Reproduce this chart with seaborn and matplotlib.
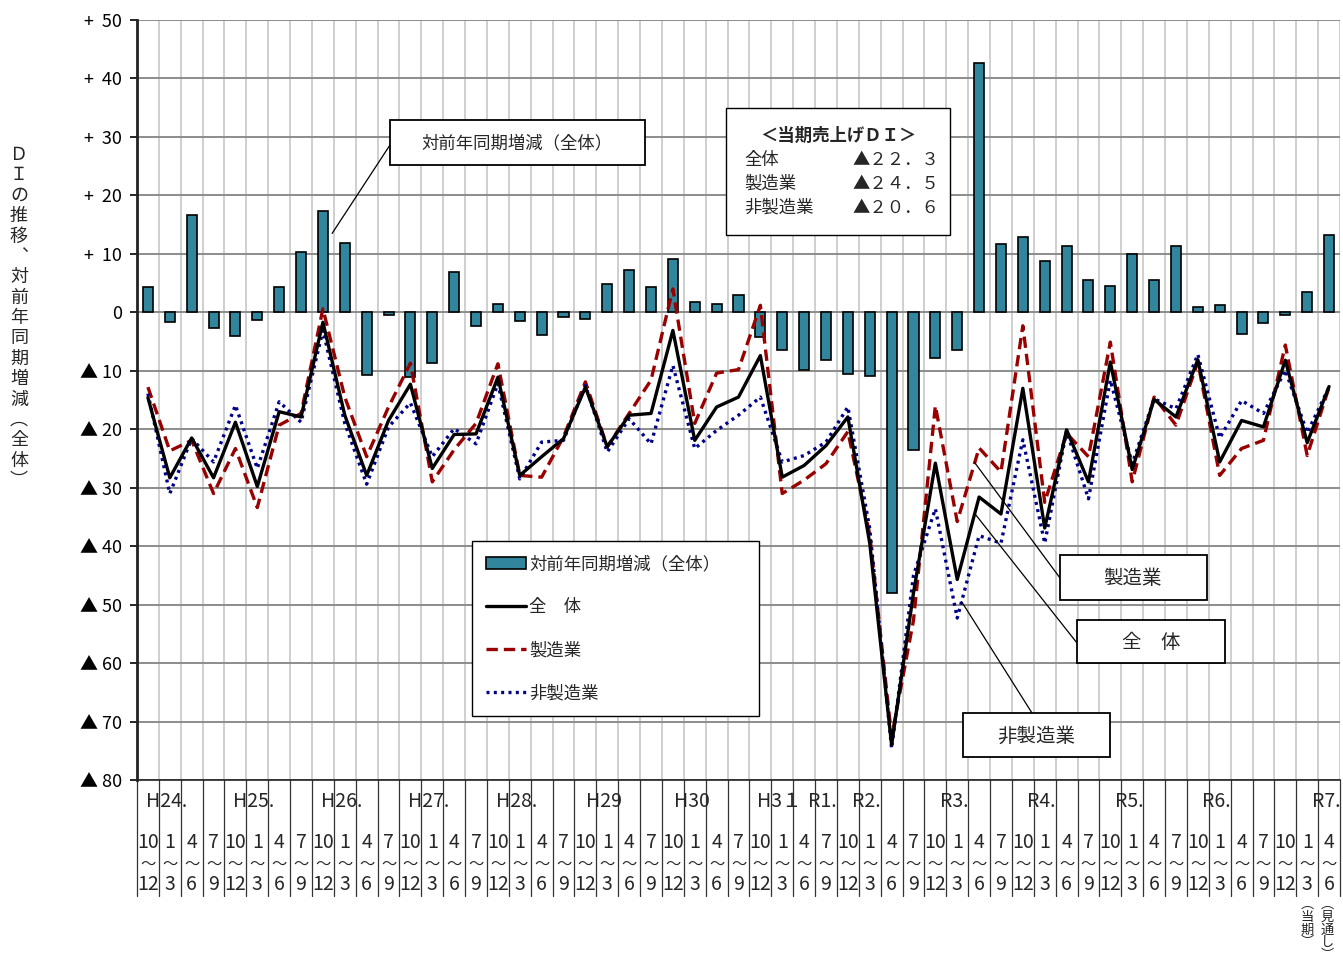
import numpy as np
import pandas as pd
import matplotlib
matplotlib.use("Agg")
import matplotlib.pyplot as plt
import matplotlib.transforms as mtransforms
from matplotlib.patches import Rectangle
import seaborn as sns

# ---------------------------------------------------------------- data
month_from = ["10", "1", "4", "7"]
month_to = ["12", "3", "6", "9"]

year_labels = ["H24.", "H25.", "H26.", "H27.", "H28.", "H29", "H30", "H3１",
               "R1.", "R2.", "R3.", "R4.", "R5.", "R6.", "R7."]
year_cols = [1, 5, 9, 13, 17, 21, 25, 29, 31, 33, 37, 41, 45, 49, 54]

# 対前年同期増減（全体）
yoy_total = [4.4, -1.7, 16.6, -2.7, -4.1, -1.4, 4.4, 10.4, 17.3, 11.8,
             -10.8, -0.5, -11.0, -8.7, 6.9, -2.3, 1.5, -1.5, -3.9, -0.8,
             -1.2, 4.8, 7.2, 4.3, 9.1, 1.7, 1.5, 2.9, -4.3, -6.4,
             -9.8, -8.2, -10.5, -10.9, -48.0, -23.6, -7.8, -6.5, 42.6, 11.6,
             12.8, 8.7, 11.3, 5.5, 4.5, 10.0, 5.5, 11.3, 0.9, 1.2,
             -3.7, -1.8, -0.5, 3.5, 13.2]

# 売上げDI 全体
di_total = [-14.6, -28.3, -21.5, -28.3, -18.8, -29.8, -17.0, -17.9, -1.7, -17.6,
            -27.9, -18.5, -12.3, -26.7, -20.9, -20.8, -11.1, -27.9, -24.7, -21.6,
            -12.8, -23.0, -17.6, -17.3, -3.1, -21.9, -16.2, -14.5, -7.4, -28.2,
            -26.2, -22.8, -17.9, -39.5, -74.0, -48.0, -25.8, -45.7, -31.6, -34.5,
            -13.0, -36.9, -20.1, -29.0, -8.5, -26.9, -14.9, -17.9, -8.1, -25.6,
            -18.5, -19.6, -8.2, -22.3, -12.7]

# 売上げDI 製造業
di_mfg = [-12.8, -23.7, -21.9, -31.0, -23.3, -33.4, -19.3, -17.3, 0.6, -14.5,
          -24.7, -16.2, -8.7, -29.0, -23.5, -19.0, -8.8, -27.9, -28.2, -21.3,
          -11.9, -23.0, -17.3, -11.6, 4.0, -19.0, -10.4, -9.8, 1.2, -31.0,
          -28.7, -25.9, -20.4, -38.0, -72.6, -52.7, -16.0, -35.8, -23.2, -27.3,
          -2.3, -32.5, -20.7, -24.7, -5.1, -29.0, -14.5, -19.3, -8.5, -27.9,
          -23.3, -21.9, -5.6, -24.5, -12.8]

# 売上げDI 非製造業
di_nonmfg = [-13.9, -31.0, -21.6, -25.6, -15.9, -26.7, -15.3, -18.8, -3.1, -19.0,
             -29.4, -19.6, -15.5, -24.7, -19.9, -22.5, -12.2, -28.5, -22.2, -21.9,
             -12.5, -23.9, -18.2, -22.5, -9.1, -23.3, -20.2, -17.6, -14.5, -25.6,
             -24.5, -22.2, -16.2, -37.0, -74.6, -45.0, -33.6, -52.3, -38.2, -39.5,
             -21.8, -39.5, -20.3, -31.9, -11.6, -25.9, -14.8, -16.5, -7.2, -21.5,
             -15.1, -17.3, -9.9, -20.6, -12.8]

current_col = 53          # 当期
outlook_col = 54          # 見通し

y_ticks = list(range(-80, 51, 10))

# ---------------------------------------------------------------- style
BAR = "#31859C"
RED = "#990000"
NAVY = "#00008B"
JP = ["Noto Sans CJK JP", "DejaVu Sans"]
NARROW = ["Liberation Sans Narrow", "Noto Sans CJK JP", "DejaVu Sans"]

sns.set_style("white")
plt.rcParams["font.family"] = JP
plt.rcParams["axes.unicode_minus"] = False

W, H = 1343, 972
fig = plt.figure(figsize=(W / 100, H / 100), dpi=100)
ax = fig.add_axes([137 / W, 1 - 780 / H, 1203 / W, 760 / H])


def fig_xy(px, py):
    return px / W, 1 - py / H


n = len(di_total)
idx = np.arange(n)
df = pd.DataFrame({"q": idx, "yoy": yoy_total, "total": di_total,
                   "mfg": di_mfg, "nonmfg": di_nonmfg})

# ---------------------------------------------------------------- marks
sns.barplot(data=df, x="q", y="yoy", color=BAR, saturation=1, width=0.46,
            edgecolor="black", linewidth=1.2, ax=ax, zorder=3,
            label="対前年同期増減（全体）")
sns.lineplot(data=df, x="q", y="total", color="black", lw=2.4, ax=ax,
             zorder=5, label="全　体")
sns.lineplot(data=df, x="q", y="mfg", color=RED, lw=2.4, ax=ax, zorder=4,
             linestyle=(0, (3.4, 1.8)), label="製造業")
sns.lineplot(data=df, x="q", y="nonmfg", color=NAVY, lw=2.4, ax=ax, zorder=4,
             linestyle=(0, (0.9, 1.3)), label="非製造業")

# ---------------------------------------------------------------- axes
ax.set_xlim(-0.5, n - 0.5)
ax.set_ylim(-80, 50)
ax.set_xlabel("")
ax.set_ylabel("")
ax.set_xticks([])
ax.set_xticks(np.arange(n + 1) - 0.5, minor=True)
ax.tick_params(axis="x", which="both", length=0, labelbottom=False)


def fmt_tick(v):
    if v > 0:
        return f"+  {v}"
    if v == 0:
        return "0"
    return f"▲ {-v}"


ax.set_yticks(y_ticks)
ax.set_yticklabels([fmt_tick(v) for v in y_ticks], fontsize=13)
ax.tick_params(axis="y", which="major", direction="out", length=5, width=1.2,
               pad=6, colors="black", left=True)

ax.set_axisbelow(True)
ax.grid(axis="y", which="major", color="#8c8c8c", lw=1.4)
ax.grid(axis="x", which="minor", color="#cfcfcf", lw=1.4)
for s in ["top", "right"]:
    ax.spines[s].set_visible(False)
ax.spines["left"].set_color("#222222")
ax.spines["left"].set_linewidth(2.0)
ax.spines["bottom"].set_color("#222222")
ax.spines["bottom"].set_linewidth(1.2)

# ---------------------------------------------------------------- period table
trans = mtransforms.blended_transform_factory(ax.transData, ax.transAxes)


def ay(py):
    return (780 - py) / 760


for k in range(n + 1):
    ax.plot([k - 0.5, k - 0.5], [0, ay(896)], transform=trans, color="#333333",
            lw=0.9, clip_on=False, zorder=2)

for i in range(n):
    ax.text(i, ay(842), month_from[i % 4], transform=trans, ha="center",
            va="center", fontsize=14, family=NARROW)
    ax.text(i, ay(864), "〜", transform=trans, ha="center", va="center",
            fontsize=11, family=JP)
    ax.text(i, ay(884), month_to[i % 4], transform=trans, ha="center",
            va="center", fontsize=14, family=NARROW)

for lab, col in zip(year_labels, year_cols):
    ax.text(col - 0.15, ay(801), lab, transform=trans, ha="center",
            va="center", fontsize=14, family=NARROW)

ax.text(current_col, ay(898), "︵\n当\n期\n︶", transform=trans, ha="center",
        va="top", fontsize=9.5, linespacing=0.98)
ax.text(outlook_col - 0.08, ay(898), "︵\n見\n通\nし\n︶", transform=trans,
        ha="center", va="top", fontsize=9.5, linespacing=0.98)

# vertical axis title
fig.text(*fig_xy(19, 318),
         "Ｄ\nＩ\nの\n推\n移\n︑\n対\n前\n年\n同\n期\n増\n減\n︵\n全\n体\n︶",
         ha="center", va="center", fontsize=13, linespacing=1.17)

# ---------------------------------------------------------------- legend
handles, labels = ax.get_legend_handles_labels()
order = ["対前年同期増減（全体）", "全　体", "製造業", "非製造業"]
hmap = dict(zip(labels, handles))
leg_x0 = (472 - 137) / 1203
leg_w = (759 - 472) / 1203
leg = ax.legend([hmap[l] for l in order], order, loc="upper left",
                bbox_to_anchor=(leg_x0, ay(541), leg_w, 0), mode="expand",
                borderaxespad=0, borderpad=0.8, labelspacing=1.45,
                handlelength=2.3, handletextpad=0.2,
                frameon=True, fancybox=False, framealpha=1,
                edgecolor="black", prop={"family": JP, "size": 12.5})
leg.get_frame().set_linewidth(1.0)
leg.set_zorder(10)

# ---------------------------------------------------------------- call-out boxes


def box(x0, y0, x1, y1, lw=1.3):
    fx0, fy1 = fig_xy(x0, y1)
    fig.add_artist(Rectangle((fx0, fy1), (x1 - x0) / W, (y1 - y0) / H,
                             transform=fig.transFigure, fc="white",
                             ec="black", lw=lw, zorder=20))


def leader(xd, yd, px, py):
    ax.annotate("", xy=(xd, yd), xycoords="data", xytext=fig_xy(px, py),
                textcoords="figure fraction", annotation_clip=False,
                arrowprops=dict(arrowstyle="-", color="black", lw=0.9,
                                shrinkA=0, shrinkB=0), zorder=9)


# bar call-out
box(390, 120, 645, 165)
fig.text(*fig_xy(517, 143), "対前年同期増減（全体）", ha="center", va="center",
         fontsize=12.5, zorder=21)
leader(8.42, 0.78 * yoy_total[8], 390, 145)

# series call-outs
hit = 37.8
box(1060, 555, 1207, 600)
fig.text(*fig_xy(1133, 578), "製造業", ha="center", va="center", fontsize=14,
         zorder=21)
leader(hit, np.interp(hit, idx, di_mfg), 1060, 578)

box(1077, 620, 1225, 663)
fig.text(*fig_xy(1151, 642), "全　体", ha="center", va="center", fontsize=14,
         zorder=21)
leader(hit, np.interp(hit, idx, di_total), 1077, 643)

box(963, 713, 1110, 757)
fig.text(*fig_xy(1036, 736), "非製造業", ha="center", va="center", fontsize=14,
         zorder=21)
hit_n = 37.2
leader(hit_n, np.interp(hit_n, idx, di_nonmfg), 1032, 713)

# current-period summary box
FW = str.maketrans("0123456789.", "０１２３４５６７８９．")


def fw_value(v):
    return ("▲" if v < 0 else "＋") + f"{abs(v):.1f}".translate(FW)


box(726, 108, 950, 235, lw=1.0)
fig.text(*fig_xy(838, 136), "＜当期売上げＤＩ＞", ha="center", va="center",
         fontsize=12.5, fontweight="bold", zorder=21)
summary = [("全体", di_total[current_col]), ("製造業", di_mfg[current_col]),
           ("非製造業", di_nonmfg[current_col])]
for r, (name, val) in enumerate(summary):
    py = 160 + 24 * r
    fig.text(*fig_xy(744, py), name, ha="left", va="center", fontsize=12.5,
             zorder=21)
    fig.text(*fig_xy(852, py), fw_value(val), ha="left", va="center",
             fontsize=12.5, zorder=21)

fig.savefig("out.png", dpi=100)
